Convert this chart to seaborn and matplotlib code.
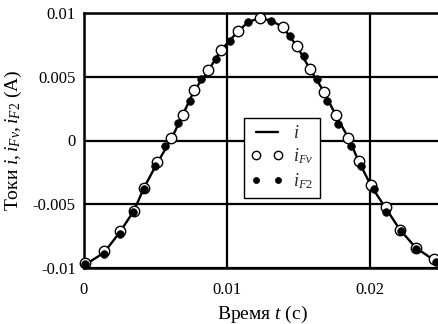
import matplotlib
matplotlib.use('Agg')
import matplotlib.pyplot as plt
import pandas as pd
import seaborn as sns

# time (s) and current (A) values
t_i = [0.0, 0.0014, 0.0025, 0.0035, 0.0042, 0.0051, 0.0061, 0.0069, 0.0077,
       0.0087, 0.0096, 0.0108, 0.0115, 0.0123, 0.0131, 0.0139, 0.0149,
       0.0158, 0.0168, 0.0176, 0.0185, 0.0192, 0.0201, 0.0211, 0.0221,
       0.0232, 0.0245, 0.0249]
i_line = [-0.0098, -0.0088, -0.0072, -0.0055, -0.0037, -0.0018, 0.0001,
          0.0020, 0.0039, 0.0055, 0.0071, 0.0086, 0.0093, 0.0096, 0.0094,
          0.0089, 0.0074, 0.0056, 0.0038, 0.0020, 0.0002, -0.0016, -0.0036,
          -0.0053, -0.0070, -0.0084, -0.0094, -0.0096]

t_fv = [0.0001, 0.0014, 0.0025, 0.0035, 0.0042, 0.0051, 0.0061, 0.0069,
        0.0077, 0.0087, 0.0096, 0.0108, 0.0123, 0.0139, 0.0149, 0.0158,
        0.0168, 0.0176, 0.0185, 0.0192, 0.0201, 0.0211, 0.0221, 0.0232,
        0.0245]
i_fv = [-0.0096, -0.0087, -0.0071, -0.0055, -0.0037, -0.0017, 0.0002, 0.0020,
        0.0040, 0.0055, 0.0071, 0.0086, 0.0096, 0.0089, 0.0074, 0.0056,
        0.0038, 0.0020, 0.0002, -0.0016, -0.0035, -0.0052, -0.0070, -0.0084,
        -0.0093]

t_f2 = [0.0001, 0.0014, 0.0025, 0.0034, 0.0042, 0.0050, 0.0057, 0.0066,
        0.0074, 0.0082, 0.0092, 0.0102, 0.0115, 0.0131, 0.0144, 0.0154,
        0.0163, 0.0170, 0.0178, 0.0187, 0.0194, 0.0203, 0.0211, 0.0222,
        0.0232, 0.0246]
i_f2 = [-0.0097, -0.0089, -0.0073, -0.0056, -0.0038, -0.0020, -0.0004, 0.0014,
        0.0031, 0.0048, 0.0064, 0.0078, 0.0093, 0.0094, 0.0082, 0.0066,
        0.0048, 0.0031, 0.0013, -0.0004, -0.0020, -0.0038, -0.0056, -0.0071,
        -0.0085, -0.0095]

x_ticks = [0, 0.01, 0.02]
x_ticklabels = ['0', '0.01', '0.02']
y_ticks = [-0.01, -0.005, 0, 0.005, 0.01]
y_ticklabels = ['-0.01', '-0.005', '0', '0.005', '0.01']

sns.set_theme(style='white')
plt.rcParams['font.family'] = ['Liberation Serif', 'DejaVu Serif']
plt.rcParams['mathtext.fontset'] = 'custom'
plt.rcParams['mathtext.rm'] = 'Liberation Serif'
plt.rcParams['mathtext.it'] = 'Liberation Serif:italic'

fig = plt.figure(figsize=(4.38, 3.24), dpi=100)
ax = fig.add_axes([84 / 438, (324 - 268) / 324, (440 - 84) / 438, (268 - 13) / 324])

line_df = pd.DataFrame({'t': t_i, 'i': i_line})
fv_df = pd.DataFrame({'t': t_fv, 'i': i_fv})
f2_df = pd.DataFrame({'t': t_f2, 'i': i_f2})

sns.lineplot(data=line_df, x='t', y='i', color='black', linewidth=1.7,
             label='$i$', ax=ax, zorder=3, clip_on=False)
sns.lineplot(data=fv_df, x='t', y='i', linestyle='', marker='o', markersize=7.5,
             markerfacecolor='white', markeredgecolor='black', markeredgewidth=1.0,
             label='$i_{Fv}$', ax=ax, zorder=4, clip_on=False)
sns.lineplot(data=f2_df, x='t', y='i', linestyle='', marker='o', markersize=5.5,
             markerfacecolor='black', markeredgecolor='black', markeredgewidth=0.5,
             color='black', label='$i_{F2}$', ax=ax, zorder=5, clip_on=False)

ax.set_xlim(0, 0.0249)
ax.set_ylim(-0.01, 0.01)
ax.set_xticks(x_ticks)
ax.set_xticklabels(x_ticklabels)
ax.set_yticks(y_ticks)
ax.set_yticklabels(y_ticklabels)
ax.tick_params(length=0, labelsize=12, colors='black')
ax.tick_params(axis='x', pad=10)
ax.tick_params(axis='y', pad=6)

ax.grid(True, color='black', linewidth=1.6)
ax.set_axisbelow(True)
for side in ['left', 'top', 'bottom']:
    ax.spines[side].set_color('black')
    ax.spines[side].set_linewidth(1.8)
ax.spines['right'].set_visible(False)

ax.set_xlabel('Время $t$ (c)', fontsize=14, color='black', labelpad=4)
ax.set_ylabel('Токи $i, i_{Fv}, i_{F2}$ (A)', fontsize=14, color='black', labelpad=6)

leg = ax.legend(loc='upper left', bbox_to_anchor=(0.449, 0.588), borderaxespad=0,
                fontsize=13, numpoints=2, markerscale=0.8, handlelength=1.8,
                handletextpad=0.5, labelspacing=0.25, borderpad=0.4,
                fancybox=False, framealpha=1, edgecolor='black')
leg.get_frame().set_linewidth(1.0)
leg.set_zorder(10)

fig.savefig('out.png', dpi=100)
